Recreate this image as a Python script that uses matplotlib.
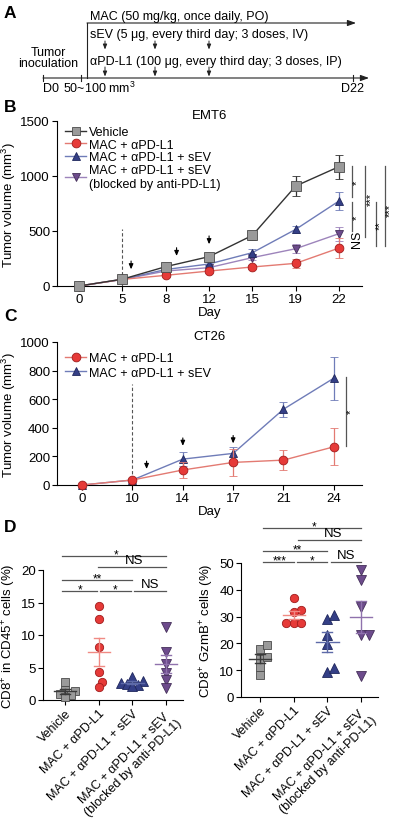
import numpy as np
import matplotlib
matplotlib.use('Agg')
import matplotlib.pyplot as plt
from matplotlib.lines import Line2D

plt.rcParams['font.family'] = ['Liberation Sans', 'DejaVu Sans']
plt.rcParams['mathtext.fontset'] = 'custom'
plt.rcParams['mathtext.rm'] = 'Liberation Sans'
plt.rcParams['mathtext.it'] = 'Liberation Sans:italic'
plt.rcParams['mathtext.bf'] = 'Liberation Sans:bold'
plt.rcParams['axes.linewidth'] = 0.8

# ---------------- data ----------------
group_names = ["Vehicle", "MAC + αPD-L1", "MAC + αPD-L1 + sEV",
               "MAC + αPD-L1 + sEV\n(blocked by anti-PD-L1)"]

# Panel B: EMT6
emt6_days = [0, 5, 8, 12, 15, 19, 22]
emt6_vehicle = [0, 62, 176, 267, 460, 909, 1085]
emt6_vehicle_err = [0, 10, 20, 25, 40, 91, 110]
emt6_mac = [0, 60, 97, 136, 173, 206, 345]
emt6_mac_err = [0, 8, 12, 15, 20, 44, 90]
emt6_sev = [0, 60, 150, 200, 303, 515, 773]
emt6_sev_err = [0, 8, 15, 20, 30, 32, 82]
emt6_blk = [0, 60, 136, 167, 258, 339, 476]
emt6_blk_err = [0, 8, 12, 18, 25, 42, 63]
emt6_dose_pos = [1.2, 2.25, 3.0]
emt6_dose_tip = [152, 273, 380]

# Panel C: CT26
ct26_days = [0, 10, 14, 17, 21, 24]
ct26_mac = [0, 35, 105, 158, 174, 267]
ct26_mac_err = [0, 8, 55, 93, 68, 129]
ct26_sev = [0, 35, 181, 221, 530, 747]
ct26_sev_err = [0, 8, 47, 45, 51, 150]
ct26_dose_pos = [1.28, 2.0, 3.0]
ct26_dose_tip = [112, 274, 291]

# Panel D left: CD8+ in CD45+ cells (%)
cd8_vehicle = [2.7, 1.6, 1.4, 0.9, 0.8, 0.5]
cd8_mac = [14.4, 12.4, 8.2, 4.3, 2.8, 2.05]
cd8_sev = [3.5, 2.9, 2.6, 2.5, 2.3, 2.1]
cd8_blk = [11.3, 7.4, 5.6, 4.1, 3.1, 1.9]

# Panel D right: CD8+ GzmB+ cells (%)
gzmb_vehicle = [18.0, 19.3, 14.3, 15.0, 11.2, 8.1]
gzmb_mac = [36.9, 32.3, 31.9, 27.7, 27.7, 27.7]
gzmb_sev = [29.2, 30.7, 23.0, 19.9, 9.3, 10.9]
gzmb_blk = [47.3, 43.5, 33.6, 23.3, 23.3, 7.8]

# ---------------- styles ----------------
faces = ['#9a9a9a', '#e63a38', '#343f86', '#6d4b8c']
edges = ['#4a4a4a', '#a01c1c', '#1f275c', '#45305a']
lines = ['#333333', '#e37a72', '#6f7cb8', '#9d84bb']
mean_cols = ['#3a3a3a', '#f08a84', '#5d6aa8', '#8f72ad']
markers = ['s', 'o', '^', 'v']
SIG = '#555555'

W, H = 398, 820
fig = plt.figure(figsize=(W / 100, H / 100), dpi=100)


def px_axes(l, t, r, b):
    return fig.add_axes([l / W, 1 - b / H, (r - l) / W, (b - t) / H])


def style_axes(ax, fs):
    for s in ['top', 'right']:
        ax.spines[s].set_visible(False)
    ax.tick_params(direction='out', length=3.5, width=0.8, labelsize=fs, pad=1.5)


# ---------------- panel labels ----------------
for lab, y in [('A', 13), ('B', 107), ('C', 317), ('D', 527)]:
    fig.text(4 / W, 1 - y / H, lab, fontsize=12.5, fontweight='bold', va='center', ha='left')

# ---------------- Panel A (schematic) ----------------
axa = fig.add_axes([0, 1 - 100 / H, 1, 100 / H])
axa.set_xlim(0, W)
axa.set_ylim(100, 0)
axa.axis('off')
tl_col = '#222222'
axa.annotate('', xy=(369, 79), xytext=(43, 79),
             arrowprops=dict(arrowstyle='-|>,head_length=0.5,head_width=0.18', lw=0.8,
                             color=tl_col, shrinkA=0, shrinkB=0))
for tx in [43, 81, 353]:
    axa.plot([tx, tx], [76, 82], color=tl_col, lw=0.8)
timeline_labels = ["D0", "50~100 mm$^{3}$", "D22"]
axa.text(50.5, 88.5, timeline_labels[0], ha='center', va='center', fontsize=9)
axa.text(63, 88.5, timeline_labels[1], ha='left', va='center', fontsize=9)
axa.text(353, 88.5, timeline_labels[2], ha='center', va='center', fontsize=9)
axa.text(48, 58.5, "Tumor\ninoculation", ha='center', va='center', fontsize=9, linespacing=0.95)
axa.plot([87, 87], [79, 24], color=tl_col, lw=0.8)
axa.annotate('', xy=(356, 24), xytext=(87, 24),
             arrowprops=dict(arrowstyle='-|>,head_length=0.5,head_width=0.18', lw=0.8,
                             color=tl_col, shrinkA=0, shrinkB=0))
treatments = ["MAC (50 mg/kg, once daily, PO)",
              "sEV (5 μg, every third day; 3 doses, IV)",
              "αPD-L1 (100 μg, every third day; 3 doses, IP)"]
for txt, y in zip(treatments, [17, 35, 62]):
    axa.text(90, y, txt, ha='left', va='center', fontsize=9)
for dx in [105, 155, 209]:
    for y0, y1 in [(42, 50.5), (68, 77.5)]:
        axa.annotate('', xy=(dx, y1), xytext=(dx, y0),
                     arrowprops=dict(arrowstyle='-|>,head_length=0.3,head_width=0.12', lw=0.7,
                                     color=tl_col, shrinkA=0, shrinkB=0))


# ---------------- helper for growth curves ----------------
def growth(ax, series, errs, idxs):
    x = np.arange(len(series[0]))
    for k, (vals, err, gi) in enumerate(zip(series, errs, idxs)):
        ms = 6.6 if markers[gi] == 's' else 6.3
        ax.errorbar(x, vals, yerr=err, marker=markers[gi], ms=ms, mfc=faces[gi], mec=edges[gi],
                    mew=0.6, color=lines[gi], lw=1.0, elinewidth=0.9, capsize=3, capthick=0.9,
                    ecolor=lines[gi], clip_on=False, zorder=10 - k)
    handles = [Line2D([0], [0], marker=markers[gi], ms=6.3, mfc=faces[gi], mec=edges[gi], mew=0.6,
                      color=lines[gi], lw=1.0) for gi in idxs]
    return handles


def arrows(ax, xs, tips, length):
    for xp, tp in zip(xs, tips):
        ax.annotate('', xy=(xp, tp), xytext=(xp, tp + length),
                    arrowprops=dict(arrowstyle='-|>,head_length=0.3,head_width=0.13', lw=0.8,
                                    color='black', shrinkA=0, shrinkB=0), annotation_clip=False)


def vbracket(ax, x, y0, y1, label, tx, ty, fs=8, rot=90):
    ax.plot([x, x], [y0, y1], color=SIG, lw=0.9, clip_on=False)
    ax.text(tx, ty, label, rotation=rot, ha='center', va='center', fontsize=fs, clip_on=False)


# ---------------- Panel B ----------------
axb = px_axes(57, 122, 362, 287)
hb = growth(axb, [emt6_vehicle, emt6_mac, emt6_sev, emt6_blk],
            [emt6_vehicle_err, emt6_mac_err, emt6_sev_err, emt6_blk_err], [0, 1, 2, 3])
axb.set_xlim(-0.51, 6.53)
axb.set_ylim(0, 1500)
axb.set_yticks([0, 500, 1000, 1500])
axb.set_xticks(np.arange(len(emt6_days)))
axb.set_xticklabels([str(d) for d in emt6_days])
style_axes(axb, 9.5)
axb.set_xlabel('Day', fontsize=9.5, labelpad=1)
axb.set_ylabel('Tumor volume (mm$^{3}$)', fontsize=9.5, labelpad=2)
axb.set_title('EMT6', fontsize=9.5, pad=2)
axb.plot([1, 1], [0, 515], ls=(0, (3, 2)), color='#555555', lw=0.8)
arrows(axb, emt6_dose_pos, emt6_dose_tip, 75)
axb.legend(hb, group_names, loc='upper left', bbox_to_anchor=(0.01, 1.0), frameon=False,
           fontsize=9, handlelength=1.7, handletextpad=0.2, labelspacing=0.05, borderaxespad=0)
vbracket(axb, 6.29, 1094, 809, '*', 6.40, 950)
vbracket(axb, 6.29, 764, 500, '*', 6.40, 630)
axb.text(6.42, 430, 'NS', rotation=90, ha='center', va='center', fontsize=9, clip_on=False)
vbracket(axb, 6.60, 1094, 445, '***', 6.74, 800)
vbracket(axb, 6.85, 764, 364, '**', 6.95, 560)
vbracket(axb, 7.06, 1094, 364, '***', 7.17, 700)

# ---------------- Panel C ----------------
axc = px_axes(57, 343, 362, 486)
hc = growth(axc, [ct26_mac, ct26_sev], [ct26_mac_err, ct26_sev_err], [1, 2])
axc.set_xlim(-0.5, 5.56)
axc.set_ylim(0, 1000)
axc.set_yticks([0, 200, 400, 600, 800, 1000])
axc.set_xticks(np.arange(len(ct26_days)))
axc.set_xticklabels([str(d) for d in ct26_days])
style_axes(axc, 9.5)
axc.set_xlabel('Day', fontsize=9.5, labelpad=1)
axc.set_ylabel('Tumor volume (mm$^{3}$)', fontsize=9.5, labelpad=2)
axc.set_title('CT26', fontsize=9.5, pad=2)
axc.plot([1, 1], [0, 705], ls=(0, (3, 2)), color='#555555', lw=0.8)
arrows(axc, ct26_dose_pos, ct26_dose_tip, 55)
axc.legend(hc, group_names[1:3], loc='upper left', bbox_to_anchor=(0.01, 0.965), frameon=False,
           fontsize=9, handlelength=1.7, handletextpad=0.2, labelspacing=0.2, borderaxespad=0)
vbracket(axc, 5.24, 756, 274, '*', 5.33, 519)


# ---------------- Panel D helpers ----------------
def swarm(values, ypx, xpx, diam):
    vals = np.asarray(values, float)
    order = np.argsort(vals, kind='stable')
    placed = []
    offs = np.zeros(len(vals))
    for i in order:
        y = vals[i] * ypx
        cands = [0.0]
        for xj, yj in placed:
            dy = y - yj
            if abs(dy) < diam:
                d = np.sqrt(diam ** 2 - dy ** 2)
                cands += [xj + d, xj - d]
        cands.sort(key=lambda c: (round(abs(c), 6), -c))
        chosen = cands[-1]
        for c in cands:
            if all((c - xj) ** 2 + (y - yj) ** 2 >= diam ** 2 - 1e-6 for xj, yj in placed):
                chosen = c
                break
        placed.append((chosen, y))
        offs[i] = chosen / xpx
    return offs


def dot_panel(ax, data, ypx, xpx, diam):
    for gi, vals in enumerate(data):
        vals = np.asarray(vals, float)
        offs = swarm(vals, ypx, xpx, diam)
        ms = 6.0 if markers[gi] in ('s', 'o') else 6.6
        ax.plot(gi + offs, vals, ls='none', marker=markers[gi], ms=ms, mfc=faces[gi],
                mec=edges[gi], mew=0.6, clip_on=False, zorder=3)
        m = vals.mean()
        sem = vals.std(ddof=1) / np.sqrt(len(vals))
        c = mean_cols[gi]
        ax.plot([gi - 0.33, gi + 0.33], [m, m], color=c, lw=1.0, zorder=4)
        ax.plot([gi, gi], [m - sem, m + sem], color=c, lw=1.0, zorder=4)
        for yv in (m - sem, m + sem):
            ax.plot([gi - 0.15, gi + 0.15], [yv, yv], color=c, lw=1.0, zorder=4)


def hsig(ax, x0, x1, y, label, tx, fs=8.5, star=True):
    ax.plot([x0, x1], [y, y], color=SIG, lw=0.9, clip_on=False)
    if star:
        ax.annotate(label, (tx, y), xytext=(0, -1.5), textcoords='offset points', ha='center',
                    va='baseline', fontsize=fs, annotation_clip=False)
    else:
        ax.annotate(label, (tx, y), xytext=(0, 0.5), textcoords='offset points', ha='center',
                    va='bottom', fontsize=9.5, annotation_clip=False)


def dstyle(ax, ylab):
    style_axes(ax, 9.5)
    ax.set_xticks(range(4))
    ax.set_xticklabels(group_names, rotation=45, ha='right', rotation_mode='anchor',
                       fontsize=9, multialignment='center')
    ax.set_ylabel(ylab, fontsize=9.5, labelpad=2)


# ---------------- Panel D left ----------------
axd1 = px_axes(43, 571, 183, 701)
dot_panel(axd1, [cd8_vehicle, cd8_mac, cd8_sev, cd8_blk], 6.5, 34, 6.0)
axd1.set_xlim(-0.65, 3.5)
axd1.set_ylim(0, 20)
axd1.set_yticks([0, 5, 10, 15, 20])
dstyle(axd1, 'CD8$^{+}$ in CD45$^{+}$ cells (%)')
hsig(axd1, -0.09, 3.0, 22.2, '*', 1.53)
hsig(axd1, 0.97, 3.0, 20.5, 'NS', 2.06, star=False)
hsig(axd1, -0.09, 2.0, 18.5, '**', 0.97)
hsig(axd1, -0.09, 0.94, 16.8, '*', 0.45)
hsig(axd1, 1.03, 1.97, 16.8, '*', 1.5)
hsig(axd1, 2.06, 3.0, 16.8, 'NS', 2.53, star=False)

# ---------------- Panel D right ----------------
axd2 = px_axes(241, 564, 378, 698)
dot_panel(axd2, [gzmb_vehicle, gzmb_mac, gzmb_sev, gzmb_blk], 2.68, 33.7, 7.6)
axd2.set_xlim(-0.56, 3.5)
axd2.set_ylim(0, 50)
axd2.set_yticks([0, 10, 20, 30, 40, 50])
dstyle(axd2, 'CD8$^{+}$ GzmB$^{+}$ cells (%)')
hsig(axd2, 0.09, 3.0, 63.2, '*', 1.6)
hsig(axd2, 1.13, 3.0, 58.7, 'NS', 2.17, star=False)
hsig(axd2, 0.09, 2.0, 54.6, '**', 1.1)
hsig(axd2, 0.09, 1.0, 50.5, '***', 0.6)
hsig(axd2, 1.1, 2.0, 50.5, '*', 1.55)
hsig(axd2, 2.1, 3.0, 50.5, 'NS', 2.55, star=False)

fig.savefig('out.png', dpi=100)
